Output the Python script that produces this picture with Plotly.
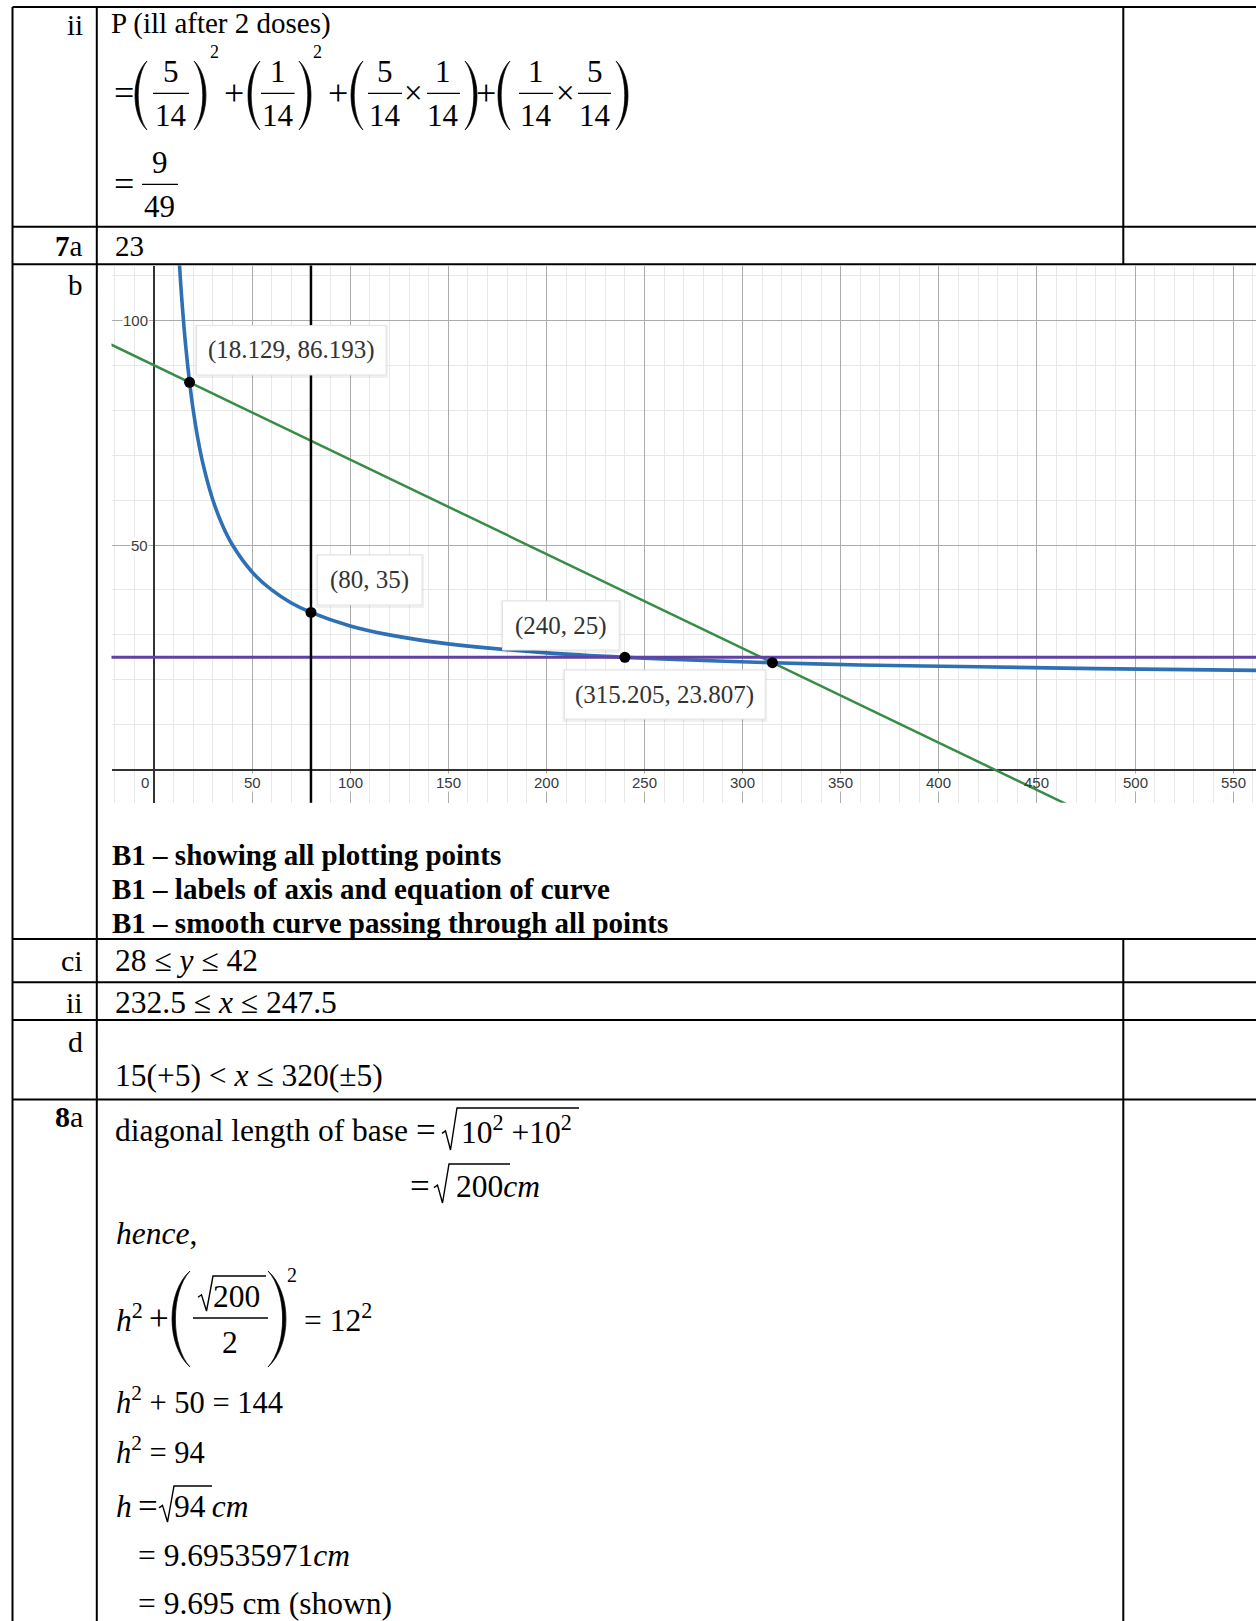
import plotly.graph_objects as go

W, H = 1256, 1621

# ---------------- graph data ----------------
curve_x = [12.8, 13.5, 14.5, 16.0, 18.129, 20, 22.5, 25, 30, 35, 40, 50, 60, 70, 80,
           100, 120, 150, 200, 240, 280, 315.205, 360, 420, 480, 562]
curve_y = [113.7, 108.9, 102.8, 95.0, 86.193, 80.0, 73.3, 68.0, 60.0, 54.3, 50.0, 44.0, 40.0, 37.1, 35.0,
           32.0, 30.0, 28.0, 26.0, 25.0, 24.3, 23.807, 23.3, 22.9, 22.5, 22.1]
line_x = [-22, 18.129, 315.205, 470]
line_y = [94.62, 86.193, 23.807, -8.7]
level_x = [-22, 562]
level_y = [25, 25]
vert_x = [80, 80]
vert_y = [-8, 113]
pts_x = [18.129, 80, 240, 315.205]
pts_y = [86.193, 35, 25, 23.807]
pt_labels = ["(18.129, 86.193)", "(80, 35)", "(240, 25)", "(315.205, 23.807)"]
x_ticks = [50, 100, 150, 200, 250, 300, 350, 400, 450, 500, 550]
y_ticks = [50, 100]

# label box placement relative to each point (pixels: x0, x1, y0, y1)
box_pix = [(7, 196.5, 7.4, 56.7), (6.6, 111, 7.4, 57.4), (-122.4, -5.6, 7.3, 56.3), (-208, -7.2, -56.3, -7.3)]

# ---------------- figure ----------------
fig = go.Figure()
fig.add_trace(go.Scatter(x=line_x, y=line_y, mode="lines", line=dict(color="#388c46", width=2.5), hoverinfo="skip"))
fig.add_trace(go.Scatter(x=curve_x, y=curve_y, mode="lines", line=dict(color="#2d70b3", width=3.6, shape="spline", smoothing=0.9), hoverinfo="skip"))
fig.add_trace(go.Scatter(x=level_x, y=level_y, mode="lines", line=dict(color="#6042a6", width=3), hoverinfo="skip"))
fig.add_trace(go.Scatter(x=vert_x, y=vert_y, mode="lines", line=dict(color="#000000", width=2.5), hoverinfo="skip"))
fig.add_trace(go.Scatter(x=pts_x, y=pts_y, mode="markers", marker=dict(color="black", size=11), hoverinfo="skip"))

ann = []
shapes = []

# graph tick labels
tick_font = dict(family="Liberation Sans, Arial", size=15, color="#3a3a3a")
for v in x_ticks:
    ann.append(dict(x=v, y=0, xref="x", yref="y", text=str(v), showarrow=False, xanchor="center",
                    yanchor="middle", yshift=-12.6, font=tick_font,
                    bgcolor=None if v == 450 else "white", borderpad=0))
ann.append(dict(x=0, y=0, xref="x", yref="y", text="0", showarrow=False, xanchor="right",
                yanchor="middle", xshift=-4, yshift=-12.6, font=tick_font, bgcolor="white", borderpad=0))
for v in y_ticks:
    ann.append(dict(x=0, y=v, xref="x", yref="y", text=str(v), showarrow=False, xanchor="right",
                    yanchor="middle", xshift=-5, font=tick_font, bgcolor="white", borderpad=0))

# point label boxes
for (px, py, lab, (bx0, bx1, by0, by1)) in zip(pts_x, pts_y, pt_labels, box_pix):
    shapes.append(dict(type="rect", xref="x", yref="y", xsizemode="pixel", ysizemode="pixel",
                       xanchor=px, yanchor=py, x0=bx0, x1=bx1, y0=by0 - 1, y1=by1 - 1,
                       line=dict(color="rgba(0,0,0,0.06)", width=4), fillcolor="rgba(0,0,0,0)", layer="above"))
    shapes.append(dict(type="rect", xref="x", yref="y", xsizemode="pixel", ysizemode="pixel",
                       xanchor=px, yanchor=py, x0=bx0, x1=bx1, y0=by0, y1=by1,
                       line=dict(color="#e3e3e3", width=1), fillcolor="white", layer="above"))
    ann.append(dict(x=px, y=py, xref="x", yref="y", text=lab, showarrow=False, xanchor="center",
                    yanchor="middle", xshift=(bx0 + bx1) / 2, yshift=(by0 + by1) / 2,
                    font=dict(family="Liberation Serif", size=25, color="#333333")))


# ---------------- page (table) helpers ----------------
def P(x, y):
    return x / W, 1 - y / H


def text(x, y, s, size=29, anchor="left", color="black", fam="Liberation Serif"):
    px, py = P(x, y)
    ann.append(dict(xref="paper", yref="paper", x=px, y=py, text=s, showarrow=False, xanchor=anchor,
                    yanchor="middle", font=dict(family=fam, size=size, color=color), borderpad=0, borderwidth=0))


def seg(x0, y0, x1, y1, w=2.0):
    a, b = P(x0, y0)
    c, d = P(x1, y1)
    shapes.append(dict(type="line", xref="paper", yref="paper", x0=a, y0=b, x1=c, y1=d,
                       line=dict(color="black", width=w), layer="above"))


def path(d, w=1.5, fill=None):
    shapes.append(dict(type="path", xref="paper", yref="paper", path=d,
                       line=dict(color="black", width=w), fillcolor=fill, layer="above"))


def fmt(x, y):
    a, b = P(x, y)
    return f"{a:.6f},{b:.6f}"


def paren(xl, xr, yt, yb, side="left", t=3.0):
    h = yb - yt
    if side == "left":
        co = (4 * xl - xr) / 3
        ci = (4 * (xl + t) - xr) / 3
        d = (f"M{fmt(xr, yt)} C{fmt(co, yt + 0.22 * h)} {fmt(co, yb - 0.22 * h)} {fmt(xr, yb)} "
             f"C{fmt(ci, yb - 0.22 * h)} {fmt(ci, yt + 0.22 * h)} {fmt(xr, yt)} Z")
    else:
        co = (4 * xr - xl) / 3
        ci = (4 * (xr - t) - xl) / 3
        d = (f"M{fmt(xl, yt)} C{fmt(co, yt + 0.22 * h)} {fmt(co, yb - 0.22 * h)} {fmt(xl, yb)} "
             f"C{fmt(ci, yb - 0.22 * h)} {fmt(ci, yt + 0.22 * h)} {fmt(xl, yt)} Z")
    path(d, w=0.7, fill="black")


def radical(x0, x1, ytop, ybot, sw=15):
    ymid = ybot - (ybot - ytop) * 0.42
    d = (f"M{fmt(x0, ymid + 1)} L{fmt(x0 + 3.5, ymid - 1.5)} L{fmt(x0 + 8.5, ybot)} "
         f"L{fmt(x0 + sw, ytop)} L{fmt(x1, ytop)}")
    path(d, w=1.4)


def frac(cx, x0, x1, ybar, num, den, size=31, up=22, down=22):
    text(cx, ybar - up, num, size, "center")
    text(cx, ybar + down, den, size, "center")
    seg(x0, ybar, x1, ybar, 1.3)


# ---------------- table lines ----------------
L, C1, C2, R = 12.5, 96.8, 1123.3, W
TOP = 7
rows = [226.7, 264.3, 939, 982.3, 1020, 1099.5]
seg(L, TOP, R, TOP)
for yy in rows:
    seg(L, yy, R, yy)
seg(L, TOP, L, H)
seg(C1, TOP, C1, H)
seg(C2, TOP, C2, 264.3)
seg(C2, 939, C2, H)

# ---------------- row ii (probability) ----------------
OP = 36
yb = 93.3
pt, pb = 61, 130
text(82.7, 25, "ii", 29, "right")
text(111, 24, "P (ill after 2 doses)", 29)
text(124, yb, "=", OP, "center")
paren(135, 147, pt, pb, "left", t=3.2)
frac(171, 153, 189, yb, "5", "14")
paren(194, 206, pt, pb, "right", t=3.2)
text(214, 52, "2", 18, "center")
text(233.6, yb, "+", OP, "center")
paren(248, 260, pt, pb, "left", t=3.2)
frac(277.5, 261, 294.6, yb, "1", "14")
paren(299, 311, pt, pb, "right", t=3.2)
text(317, 52, "2", 18, "center")
text(337.5, yb, "+", OP, "center")
paren(351, 363, pt, pb, "left", t=3.2)
frac(385, 368, 402, yb, "5", "14")
text(413.5, yb, "×", 33, "center")
frac(443, 427, 460, yb, "1", "14")
paren(465, 477, pt, pb, "right", t=3.2)
text(486.4, yb, "+", OP, "center")
paren(498, 510, pt, pb, "left", t=3.2)
frac(536, 519, 553, yb, "1", "14")
text(565, yb, "×", 33, "center")
frac(594.5, 578, 611, yb, "5", "14")
paren(616, 628, pt, pb, "right", t=3.2)
text(124, 184, "=", OP, "center")
frac(159.5, 142, 178, 184.3, "9", "49")

# ---------------- 7a / b ----------------
text(82.7, 246, "<b>7</b>a", 29, "right")
text(115, 246, "23", 29)
text(82.7, 285, "b", 29, "right")
text(111.6, 855, "<b>B1 – showing all plotting points</b>", 29)
text(111.6, 889, "<b>B1 – labels of axis and equation of curve</b>", 29)
text(111.6, 923, "<b>B1 – smooth curve passing through all points</b>", 29)

# ---------------- c / d ----------------
M = 31.5
text(82.7, 960, "ci", 30, "right")
text(115, 960, "28 ≤ <i>y</i> ≤ 42", M)
text(82.7, 1002, "ii", 30, "right")
text(115, 1002, "232.5 ≤ <i>x</i> ≤ 247.5", M)
text(82.7, 1041.5, "d", 30, "right")
text(115, 1075, "15(+5) &lt; <i>x</i> ≤ 320(±5)", M)

# ---------------- 8a ----------------
text(82.7, 1116, "<b>8</b>a", 30, "right")
text(115, 1130, "diagonal length of base", M)
text(425.5, 1130, "=", 35, "center")
radical(442, 579, 1108, 1150)
text(461, 1130, "10<sup>2</sup> +10<sup>2</sup>", M)
text(420, 1186, "=", 35, "center")
radical(434, 510, 1164, 1203)
text(456, 1186, "200<i>cm</i>", M)
text(116, 1233, "<i>hence</i>,", M)
# h^2 + (sqrt200/2)^2 = 12^2
text(116, 1318, "<i>h</i><sup>2</sup>", M)
text(159, 1318, "+", 35, "center")
paren(172, 190, 1271, 1367, "left", t=3.4)
radical(198, 266, 1276, 1311)
text(213, 1296, "200", M)
seg(193, 1318, 268, 1318, 1.3)
text(230, 1342, "2", M, "center")
paren(268, 286, 1271, 1367, "right", t=3.4)
text(292, 1275, "2", 20, "center")
text(304, 1318, "= 12<sup>2</sup>", M)
text(116, 1400, "<i>h</i><sup>2</sup> + 50 = 144", 30.5)
text(116, 1450, "<i>h</i><sup>2</sup> = 94", 30.5)
text(116, 1506, "<i>h</i>", M)
text(148, 1506, "=", 35, "center")
radical(159, 212, 1486, 1522)
text(174, 1506, "94\u2009<i>cm</i>", M)
text(138.4, 1555, "= 9.69535971<i>cm</i>", M)
text(138.4, 1603, "= 9.695 cm (shown)", M)

# ---------------- layout ----------------
x_lo, x_hi = -21.66, 561.67
y_lo, y_hi = -7.34, 112.19
axis_common = dict(tick0=0, dtick=50, showgrid=True, gridcolor="#ababab", gridwidth=1,
                   minor=dict(tick0=0, dtick=10, showgrid=True, gridcolor="#e8e8e8", gridwidth=1),
                   zeroline=True, zerolinecolor="#333333", zerolinewidth=1.8,
                   showticklabels=False, ticks="", showline=False, fixedrange=True)
fig.update_layout(
    width=W, height=H, margin=dict(l=0, r=0, t=0, b=0, pad=0),
    paper_bgcolor="white", plot_bgcolor="white", showlegend=False,
    xaxis=dict(domain=[111.5 / W, 1.0], range=[x_lo, x_hi], **axis_common),
    yaxis=dict(domain=[1 - 802.7 / H, 1 - 265.5 / H], range=[y_lo, y_hi], **axis_common),
    annotations=ann, shapes=shapes,
)
fig.write_html("out.html", config={"displayModeBar": False},
               post_script="document.body.style.margin='0';document.body.style.padding='0';"
                           "document.body.style.overflow='hidden';")
